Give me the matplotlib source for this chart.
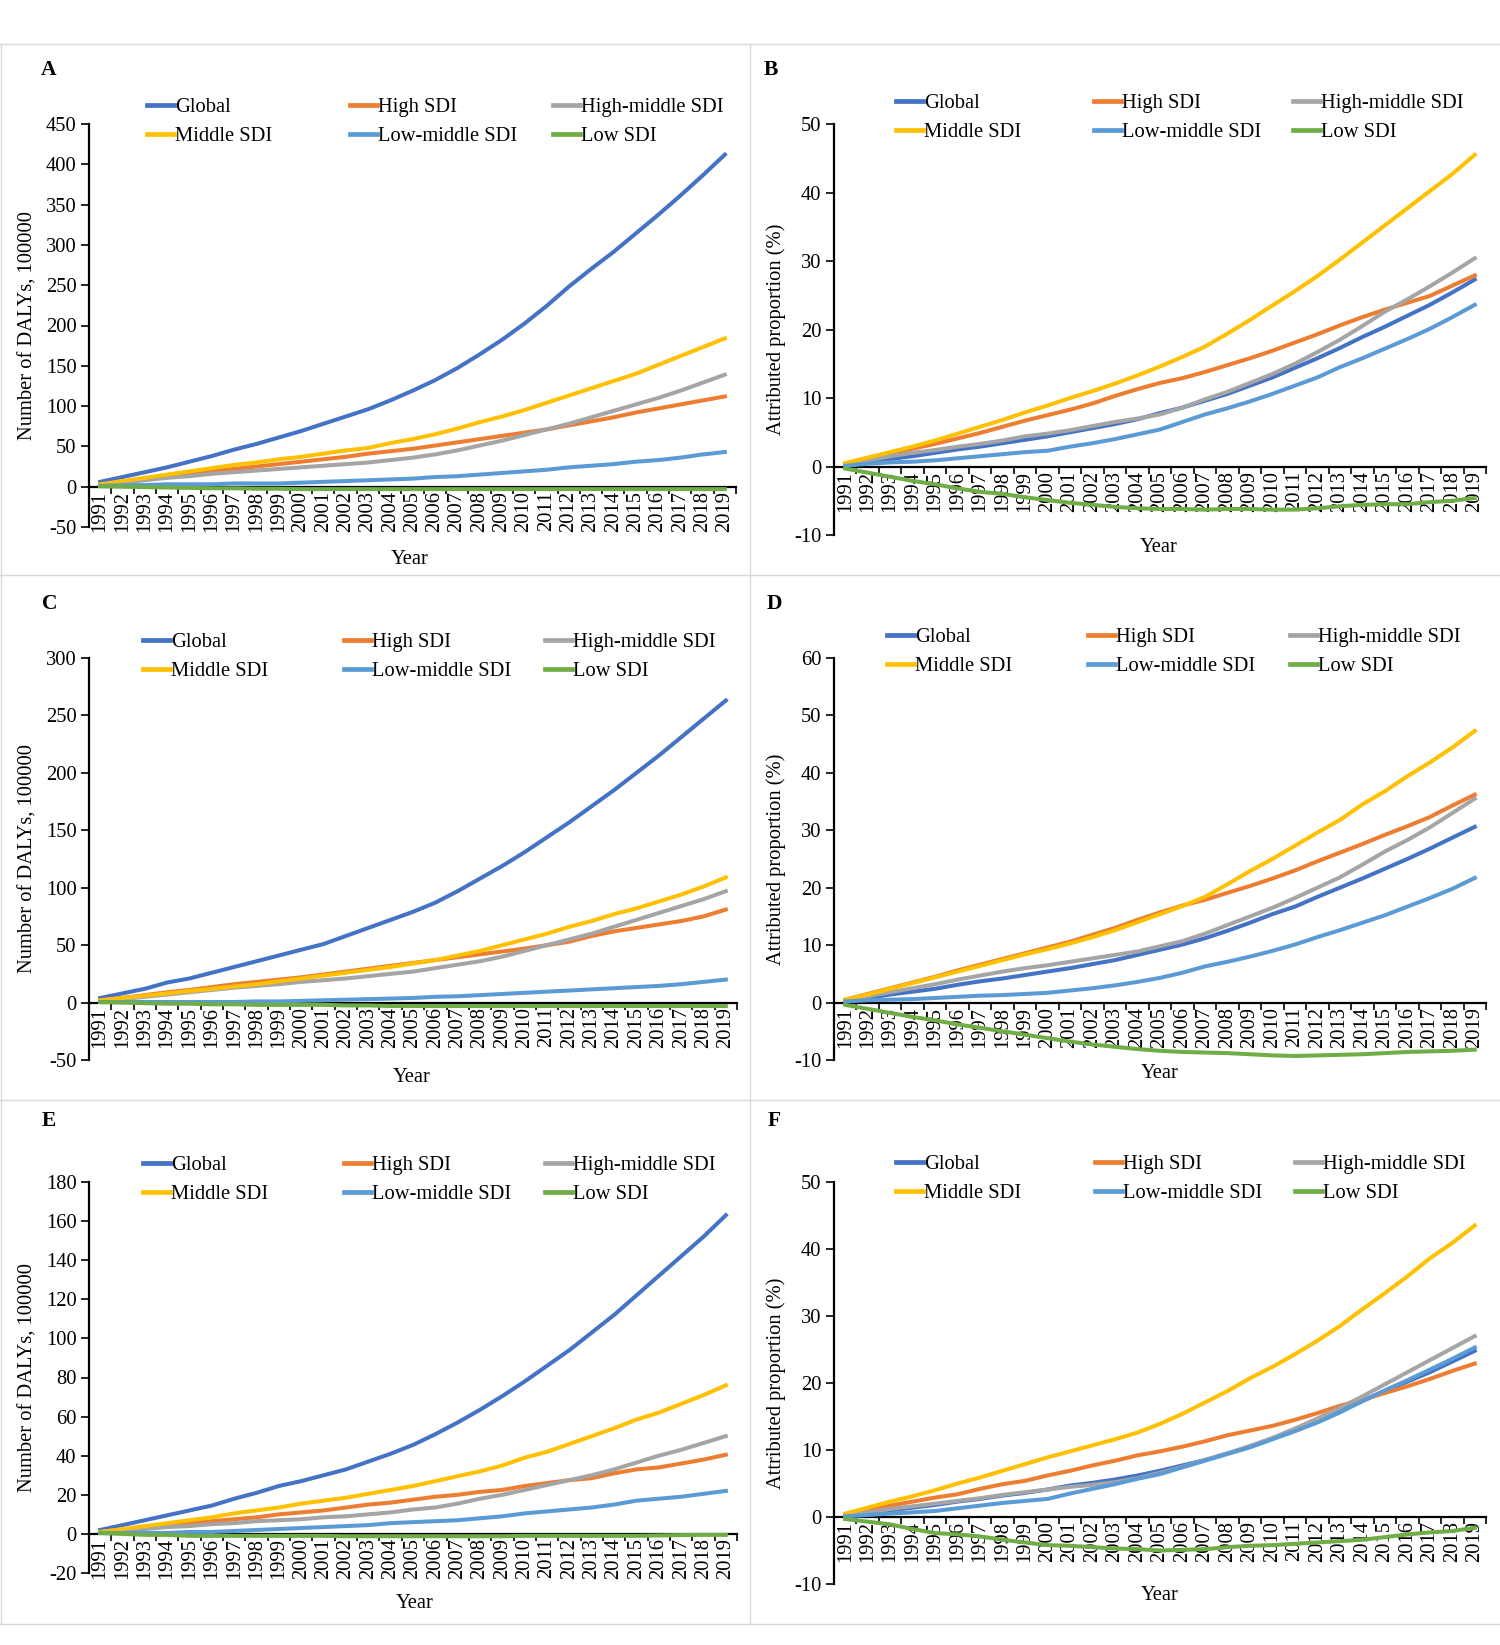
import matplotlib
matplotlib.use("Agg")
import matplotlib.pyplot as plt
from matplotlib.legend import Legend
import numpy as np

plt.rcParams['font.family'] = ['Liberation Serif', 'DejaVu Serif']
plt.rcParams['axes.unicode_minus'] = False

years = list(range(1991, 2020))
series_names = ["Global", "High SDI", "High-middle SDI", "Middle SDI", "Low-middle SDI", "Low SDI"]
colors = ["#4472C4", "#ED7D31", "#A5A5A5", "#FFC000", "#5B9BD5", "#70AD47"]

# A: number of DALYs (100000)
a_global = [6, 12, 18, 24, 31, 38, 46, 53, 61, 69, 78, 87, 96, 107, 119, 132, 147, 164, 182, 202, 224, 248, 270, 291, 314, 337, 361, 386, 412]
a_high = [2, 6, 9, 13, 16, 19, 22, 25, 28, 31, 34, 37, 41, 44, 47, 51, 55, 59, 63, 67, 71, 76, 81, 86, 92, 97, 102, 107, 112]
a_highmid = [2, 5, 8, 11, 13, 16, 18, 20, 22, 24, 26, 28, 30, 33, 36, 40, 45, 51, 57, 64, 71, 78, 86, 94, 102, 110, 119, 129, 139]
a_mid = [3, 7, 11, 15, 19, 23, 27, 30, 34, 37, 41, 45, 48, 54, 59, 65, 72, 80, 87, 95, 104, 113, 122, 131, 140, 151, 162, 173, 184]
a_lowmid = [1, 2, 2, 3, 3, 3, 4, 4, 4, 5, 6, 7, 8, 9, 10, 12, 13, 15, 17, 19, 21, 24, 26, 28, 31, 33, 36, 40, 43]
a_low = [0.5, 0, -0.5, -1, -1.5, -2, -2, -2.5, -2.5, -3, -3, -3, -3, -3, -3, -3, -3, -3, -3, -3, -3, -3, -3, -3, -3, -3, -3, -3, -3]

# B: attributed proportion (%)
b_global = [0.2, 0.7, 1.1, 1.5, 2.0, 2.5, 2.9, 3.4, 3.9, 4.4, 5.0, 5.6, 6.2, 6.9, 7.8, 8.6, 9.6, 10.6, 11.8, 13.0, 14.4, 15.8, 17.3, 18.9, 20.4, 22.0, 23.6, 25.4, 27.3]
b_high = [0.4, 1.1, 1.8, 2.6, 3.3, 4.1, 4.9, 5.8, 6.7, 7.5, 8.3, 9.2, 10.3, 11.3, 12.2, 12.9, 13.8, 14.8, 15.8, 16.9, 18.1, 19.3, 20.6, 21.8, 22.9, 23.9, 24.9, 26.4, 27.9]
b_highmid = [0.3, 0.9, 1.5, 2.0, 2.4, 2.9, 3.3, 3.8, 4.4, 4.8, 5.3, 5.9, 6.5, 7.0, 7.6, 8.6, 9.8, 10.9, 12.2, 13.5, 15.0, 16.7, 18.5, 20.5, 22.6, 24.4, 26.3, 28.3, 30.4]
b_mid = [0.5, 1.3, 2.1, 2.9, 3.8, 4.8, 5.8, 6.8, 7.9, 8.9, 10.0, 11.0, 12.1, 13.3, 14.6, 16.0, 17.5, 19.4, 21.4, 23.5, 25.6, 27.8, 30.2, 32.7, 35.2, 37.7, 40.2, 42.7, 45.5]
b_lowmid = [0.1, 0.4, 0.6, 0.7, 0.9, 1.2, 1.5, 1.8, 2.1, 2.3, 2.9, 3.4, 4.0, 4.7, 5.4, 6.5, 7.6, 8.5, 9.5, 10.6, 11.8, 13.0, 14.5, 15.8, 17.2, 18.6, 20.1, 21.8, 23.6]
b_low = [-0.3, -0.9, -1.5, -2.1, -2.6, -3.2, -3.7, -4.0, -4.5, -4.9, -5.3, -5.6, -5.9, -6.1, -6.2, -6.2, -6.3, -6.2, -6.2, -6.3, -6.3, -6.1, -5.8, -5.6, -5.5, -5.5, -5.2, -5.0, -4.6]

# C: number of DALYs (100000)
c_global = [4, 8, 12, 17.5, 21, 26, 31, 36, 41, 46, 51, 58, 65, 72, 79, 87, 97, 108, 119, 131, 144, 157, 171, 185, 200, 215, 231, 247, 263]
c_high = [2, 4, 6.5, 9, 11, 13.5, 16, 18, 20, 22, 24.5, 27, 29.5, 32, 34.5, 37, 39.5, 42, 44.5, 47, 50, 53, 58, 62, 65, 68, 71, 75, 81]
c_highmid = [1, 3, 5, 7, 9, 11, 13, 14.5, 16, 18, 19.5, 21, 23, 25, 27, 30, 33, 36, 40, 45, 50, 55, 60, 66, 72, 78, 84, 90, 97]
c_mid = [2, 4, 6, 8, 10, 12, 14, 16, 18.5, 21, 23.5, 26, 28.5, 31, 34, 37, 41, 45, 50, 55, 60, 66, 71, 77, 82, 88, 94, 101, 109]
c_lowmid = [0.5, 0.5, 0.5, 0.5, 0.5, 0.5, 0.5, 1, 1, 1.5, 2, 2.5, 3, 3.5, 4, 5, 5.5, 6.5, 7.5, 8.5, 9.5, 10.5, 11.5, 12.5, 13.5, 14.5, 16, 18, 20]
c_low = [0.5, 0, -0.5, -1, -1, -1.5, -1.5, -2, -2, -2, -2, -2.5, -2.5, -3, -3, -3, -3, -3, -3, -3, -3, -3, -3, -3, -3, -3, -3, -3, -3]

# D: attributed proportion (%)
d_global = [0.3, 0.8, 1.4, 1.9, 2.4, 3.1, 3.7, 4.2, 4.8, 5.4, 6.0, 6.7, 7.4, 8.3, 9.2, 10.1, 11.2, 12.5, 13.9, 15.4, 16.7, 18.4, 20.0, 21.6, 23.3, 25.0, 26.8, 28.7, 30.6]
d_high = [0.5, 1.5, 2.5, 3.5, 4.5, 5.6, 6.6, 7.6, 8.6, 9.6, 10.6, 11.8, 13.0, 14.4, 15.7, 16.9, 17.9, 19.1, 20.3, 21.6, 23.0, 24.6, 26.1, 27.6, 29.2, 30.7, 32.3, 34.3, 36.2]
d_highmid = [0.4, 1.1, 1.8, 2.5, 3.2, 4.0, 4.7, 5.4, 6.0, 6.5, 7.1, 7.7, 8.3, 8.9, 9.8, 10.7, 12.0, 13.5, 15.0, 16.5, 18.2, 20.0, 21.8, 24.0, 26.3, 28.3, 30.5, 33.0, 35.5]
d_mid = [0.5, 1.4, 2.4, 3.4, 4.4, 5.4, 6.4, 7.4, 8.4, 9.3, 10.3, 11.4, 12.6, 14.0, 15.4, 16.8, 18.4, 20.6, 22.9, 25.0, 27.3, 29.6, 31.8, 34.5, 36.8, 39.4, 41.8, 44.4, 47.3]
d_lowmid = [0.2, 0.4, 0.5, 0.6, 0.8, 1.0, 1.2, 1.3, 1.5, 1.7, 2.1, 2.5, 3.0, 3.6, 4.3, 5.2, 6.3, 7.1, 8.0, 9.0, 10.1, 11.4, 12.6, 13.9, 15.2, 16.7, 18.2, 19.8, 21.7]
d_low = [-0.4, -1.1, -1.8, -2.5, -3.1, -3.8, -4.4, -5.0, -5.6, -6.2, -6.8, -7.3, -7.7, -8.1, -8.4, -8.6, -8.7, -8.8, -9.0, -9.2, -9.3, -9.2, -9.1, -9.0, -8.8, -8.6, -8.5, -8.4, -8.2]

# E: number of DALYs (100000)
e_global = [2, 4.5, 7, 9.5, 12, 14.5, 18, 21, 24.5, 27, 30, 33, 37, 41, 45.5, 51, 57, 63.5, 70.5, 78, 86, 94, 103, 112, 122, 132, 142, 152, 163]
e_high = [1, 2, 3, 4.5, 5.5, 6.5, 7.5, 8.5, 10, 11, 12, 13.5, 15, 16, 17.5, 19, 20, 21.5, 22.5, 24.5, 26, 27.5, 28.5, 31, 33, 34, 36, 38, 40.5]
e_highmid = [0.5, 1.5, 2.5, 3.5, 4, 5, 5.5, 6.5, 7, 7.5, 8.5, 9, 10, 11, 12.5, 13.5, 15.5, 18, 20, 22.5, 25, 27.5, 30, 33, 36.5, 40, 43, 46.5, 50]
e_mid = [1, 2.5, 4, 5.5, 7, 8.5, 10.5, 12, 13.5, 15.5, 17, 18.5, 20.5, 22.5, 24.5, 27, 29.5, 32, 35, 39, 42, 46, 50, 54, 58.5, 62, 66.5, 71, 76]
e_lowmid = [0.5, 0.5, 0.5, 0.5, 1, 1, 1.5, 2, 2.5, 3, 3.5, 4, 4.5, 5.5, 6, 6.5, 7, 8, 9, 10.5, 11.5, 12.5, 13.5, 15, 17, 18, 19, 20.5, 22]
e_low = [0.5, 0, -0.5, -0.5, -1, -1, -1, -1, -1, -1, -1, -1.2, -1.2, -1.2, -1.2, -1.2, -1.2, -1.2, -1.2, -1, -1, -1, -1, -1, -1, -0.8, -0.6, -0.5, -0.5]

# F: attributed proportion (%)
f_global = [0.2, 0.6, 1.0, 1.4, 1.8, 2.3, 2.7, 3.2, 3.6, 4.1, 4.7, 5.1, 5.6, 6.2, 6.9, 7.7, 8.5, 9.5, 10.5, 11.7, 13.0, 14.3, 15.8, 17.3, 18.8, 20.2, 21.6, 23.2, 24.8]
f_high = [0.4, 1.0, 1.7, 2.3, 2.9, 3.4, 4.2, 4.9, 5.4, 6.2, 6.9, 7.7, 8.4, 9.2, 9.8, 10.5, 11.3, 12.2, 12.9, 13.6, 14.5, 15.5, 16.6, 17.5, 18.5, 19.5, 20.6, 21.8, 22.9]
f_highmid = [0.2, 0.7, 1.2, 1.6, 2.0, 2.4, 2.8, 3.3, 3.7, 4.1, 4.5, 4.8, 5.2, 5.8, 6.6, 7.5, 8.5, 9.5, 10.6, 11.8, 13.2, 14.7, 16.3, 18.0, 19.8, 21.6, 23.4, 25.2, 27.0]
f_mid = [0.5, 1.4, 2.3, 3.1, 4.0, 5.0, 5.9, 6.9, 7.9, 8.9, 9.8, 10.7, 11.6, 12.6, 13.9, 15.4, 17.1, 18.8, 20.7, 22.4, 24.3, 26.3, 28.5, 31.0, 33.4, 35.9, 38.6, 40.9, 43.5]
f_lowmid = [0.1, 0.3, 0.5, 0.7, 0.9, 1.3, 1.7, 2.1, 2.4, 2.7, 3.5, 4.2, 4.9, 5.7, 6.4, 7.4, 8.4, 9.4, 10.4, 11.6, 12.8, 14.1, 15.6, 17.3, 18.9, 20.4, 22.0, 23.6, 25.3]
f_low = [-0.3, -0.7, -1.1, -1.8, -2.4, -2.6, -2.9, -3.4, -3.8, -4.2, -4.3, -4.5, -4.7, -4.8, -5.0, -4.9, -4.8, -4.5, -4.3, -4.2, -4.0, -3.8, -3.6, -3.4, -3.0, -2.6, -2.3, -2.1, -1.6]

W, H = 1500, 1645
fs = 14.8

ylab_n = "Number of DALYs, 100000"
ylab_p = "Attributed proportion (%)"

# letter, data, ylim, step, ylabel, axes box (l, r, t, b px), legend rows y, legend cols x, letter xy, ylabel x, xlabel xy
panels = [
    ("A", [a_global, a_high, a_highmid, a_mid, a_lowmid, a_low], (-50, 450), 50, ylab_n,
     (89, 736, 124, 527), (105, 134), (147, 350, 553), (49, 70), 28, (410, 559)),
    ("B", [b_global, b_high, b_highmid, b_mid, b_lowmid, b_low], (-10, 50), 10, ylab_p,
     (834, 1486, 124, 535), (101, 129), (896, 1094, 1293), (771, 70), 776, (1159, 547)),
    ("C", [c_global, c_high, c_highmid, c_mid, c_lowmid, c_low], (-50, 300), 50, ylab_n,
     (89, 737, 658, 1060), (640, 669), (143, 344, 545), (50, 604), 28, (412, 1077)),
    ("D", [d_global, d_high, d_highmid, d_mid, d_lowmid, d_low], (-10, 60), 10, ylab_p,
     (834, 1486, 658, 1060), (635, 664), (887, 1088, 1290), (774, 604), 776, (1160, 1073)),
    ("E", [e_global, e_high, e_highmid, e_mid, e_lowmid, e_low], (-20, 180), 20, ylab_n,
     (89, 737, 1182, 1573), (1163, 1192), (143, 344, 545), (49, 1121), 28, (415, 1604)),
    ("F", [f_global, f_high, f_highmid, f_mid, f_lowmid, f_low], (-10, 50), 10, ylab_p,
     (834, 1486, 1182, 1584), (1162, 1191), (896, 1095, 1295), (774, 1121), 776, (1160, 1596)),
]

fig = plt.figure(figsize=(W / 100, H / 100), dpi=100)

# panel frames
for yy in (44, 575, 1100, 1624):
    fig.add_artist(plt.Line2D([0, 1], [1 - yy / H, 1 - yy / H], color="#D9D9D9", lw=1, transform=fig.transFigure))
for xx in (0.5, 750):
    fig.add_artist(plt.Line2D([xx / W, xx / W], [1 - 1624 / H, 1 - 44 / H], color="#D9D9D9", lw=1, transform=fig.transFigure))

for (letter, data, ylim, step, ylab, box, rows, cols, lxy, ylx, xlxy) in panels:
    l, r, t, b = box
    ax = fig.add_axes([l / W, 1 - b / H, (r - l) / W, (b - t) / H])
    handles = []
    for name, vals, col in zip(series_names, data, colors):
        h, = ax.plot(years, vals, color=col, lw=2.9, zorder=3, solid_joinstyle="round")
        handles.append(h)
    ax.set_xlim(1990.5, 2019.5)
    ax.set_ylim(*ylim)
    for s in ("top", "right"):
        ax.spines[s].set_visible(False)
    ax.spines["bottom"].set_position(("data", 0))
    ax.spines["bottom"].set_linewidth(1.6)
    ax.spines["left"].set_linewidth(1.6)
    ax.set_yticks(np.arange(ylim[0], ylim[1] + step, step))
    ax.set_xticks(years)
    ax.set_xticklabels([str(y) for y in years], rotation=90)
    ax.set_xticks(np.arange(1990.5, 2020, 1), minor=True)
    ax.tick_params(axis="x", which="major", length=0, pad=3, labelsize=fs)
    ax.tick_params(axis="x", which="minor", length=5, width=1.2, direction="out")
    ax.tick_params(axis="y", length=6, width=1.2, direction="out", pad=3, labelsize=fs)
    ax.patch.set_alpha(0)

    # legend: three columns of two rows
    for j in range(3):
        hs = [handles[j], handles[j + 3]]
        labs = [series_names[j], series_names[j + 3]]
        leg = Legend(ax, hs, labs, loc="upper left",
                     bbox_to_anchor=(cols[j] / W, 1 - (rows[0] - 7) / H),
                     bbox_transform=fig.transFigure, frameon=False, fontsize=fs,
                     borderpad=0, borderaxespad=0, handlelength=1.3, handletextpad=0.05,
                     labelspacing=0.45)
        for lh in leg.get_lines():
            lh.set_linewidth(3.4)
        ax.add_artist(leg)

    fig.text(lxy[0] / W, 1 - lxy[1] / H, letter, fontsize=15.5, fontweight="bold", ha="center", va="center")
    fig.text(ylx / W, 1 - ((t + b) / 2) / H, ylab, rotation=90, fontsize=fs, ha="center", va="center")
    fig.text(xlxy[0] / W, 1 - xlxy[1] / H, "Year", fontsize=fs, ha="center", va="center")

fig.savefig("out.png", dpi=100, facecolor="white")
